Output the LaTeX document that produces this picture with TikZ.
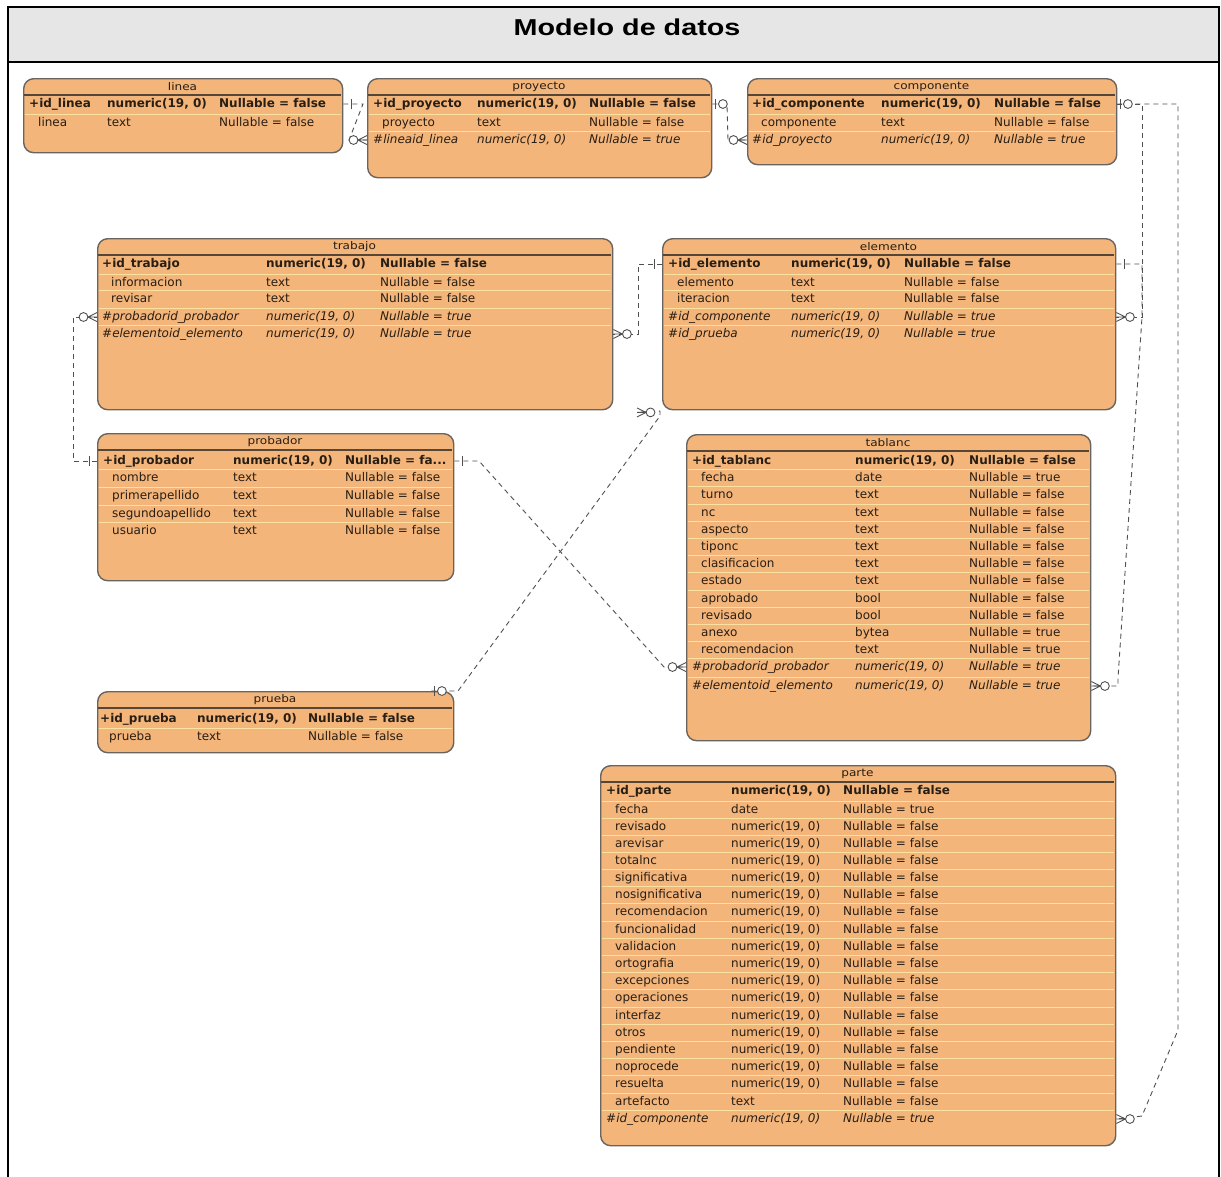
\documentclass[tikz,border=0pt]{standalone}
\usepackage{fontspec}
\setmainfont{DejaVu Sans}
\newfontfamily\headfont{Liberation Sans}
\usetikzlibrary{calc}

\definecolor{entfill}{RGB}{243,181,122}
\definecolor{entline}{RGB}{105,100,95}
\definecolor{entrule}{RGB}{85,70,55}
\definecolor{rowrule}{RGB}{252,226,160}
\definecolor{enttext}{RGB}{40,30,20}
\definecolor{relline}{RGB}{80,80,80}
\definecolor{headfill}{RGB}{230,230,230}

\newcommand\nm{numeric(19, 0)}
\newcommand\nullcut{Nullable = fa...}

\tikzset{
  frame/.style={draw=black, line width=2.2pt},
  tblbox/.style={draw=entline, line width=1.4pt, fill=entfill, rounded corners=10pt, inner sep=0pt},
  tbltitle/.style={font=\fontsize{10.5}{12}\selectfont, text=enttext, inner sep=0pt},
  tblrule/.style={draw=entrule, line width=1.8pt},
  rowrule/.style={draw=rowrule, line width=1pt},
  cell/.style={anchor=west, inner sep=0pt, text height=9pt, text depth=3pt, text=enttext},
  row-k/.style={cell, font=\fontsize{12}{14}\selectfont\bfseries},
  row-n/.style={cell, font=\fontsize{12}{14}\selectfont},
  row-f/.style={cell, font=\fontsize{12}{14}\selectfont\itshape},
  name-k/.style={}, name-f/.style={}, name-n/.style={xshift=9pt},
  fmt/.code={\tikzset{row-#1}},
  namefmt/.code={\tikzset{name-#1}},
  rel/.style={draw=relline, line width=0.9pt, dash pattern=on 5pt off 4pt},
  endmark/.style={draw=relline, line width=0.9pt, solid},
  many/.pic={
    \draw[endmark] (-9,0) -- (0,-4.5) (-9,0) -- (0,0) (-9,0) -- (0,4.5);
    \draw[endmark, fill=white] (-13.5,0) circle[radius=4.4pt];
  },
  one/.pic={\draw[endmark] (-8,-5) -- (-8,5);},
  zeroone/.pic={
    \draw[endmark] (-3,-5) -- (-3,5);
    \draw[endmark, fill=white] (-10.5,0) circle[radius=4.4pt];
  }
}

% \entity{name}{left}{top}{right}{bottom}{title}
\newcommand\entity[6]{%
  \def\eL{#2}\def\eR{#4}%
  \node[tblbox, anchor=north west, minimum width={#4-#2}, minimum height={#5-#3}] (#1) at (#2,#3) {};
  \node[tbltitle] (#1-title) at (#2/2+#4/2, #3+8.5) {\scalebox{1.15}[1]{#6}};
  \draw[tblrule] (#2+0.8, #3+17) -- (#4-0.8, #3+17);
}

% \entrows{entity}{name x}{type x}{null x}{kind/y/name/type/nullable, ...}
\newcommand\entrows[5]{%
  \foreach[count=\i] \s/\y/\fa/\fb/\fc in {#5}{%
    \ifnum\i>1 \draw[rowrule] (\eL+1.5,\y-8.7) -- (\eR-1.5,\y-8.7);\fi
    \node[fmt/.expand once=\s, namefmt/.expand once=\s] (#1-\i) at (#2,\y) {\fa};
    \node[fmt/.expand once=\s] (#1-\i-t) at (#3,\y) {\fb};
    \node[fmt/.expand once=\s] (#1-\i-n) at (#4,\y) {\fc};
  }%
}

\begin{document}
\begin{tikzpicture}[x=1pt, y=-1pt]
\useasboundingbox (0,0) rectangle (1221,1176);

% page frame and heading
\fill[headfill] (8,7) rectangle (1219,62);
\draw[frame] (8,1190) -- (8,7) -- (1219,7) -- (1219,1190);
\draw[frame] (8,62) -- (1219,62);
\node[font=\headfont\bfseries\fontsize{23}{26}\selectfont, inner sep=0pt] (title) at (627,27) {\scalebox{1.25}[1]{Modelo de datos}};

% ---------------- tables ----------------
\entity{linea}{23}{78}{342}{152}{linea}
\entrows{linea}{29}{107}{219}{k/104/+id\_linea/\nm/Nullable = false, n/123/linea/text/Nullable = false}

\entity{proyecto}{367}{78}{711}{177}{proyecto}
\entrows{proyecto}{373}{477}{589}{k/104/+id\_proyecto/\nm/Nullable = false, n/123/proyecto/text/Nullable = false, f/140/\#lineaid\_linea/\nm/Nullable = true}

\entity{componente}{747}{78}{1116}{164}{componente}
\entrows{componente}{752}{881}{994}{k/104/+id\_componente/\nm/Nullable = false, n/123/componente/text/Nullable = false, f/140/\#id\_proyecto/\nm/Nullable = true}

\entity{trabajo}{97}{238}{612}{409}{trabajo}
\entrows{trabajo}{102}{266}{380}{k/264/+id\_trabajo/\nm/Nullable = false, n/283/informacion/text/Nullable = false, n/299/revisar/text/Nullable = false, f/317/\#probadorid\_probador/\nm/Nullable = true, f/334/\#elementoid\_elemento/\nm/Nullable = true}

\entity{elemento}{662}{238}{1115}{409}{elemento}
\entrows{elemento}{668}{791}{904}{k/264/+id\_elemento/\nm/Nullable = false, n/283/elemento/text/Nullable = false, n/299/iteracion/text/Nullable = false, f/317/\#id\_componente/\nm/Nullable = true, f/334/\#id\_prueba/\nm/Nullable = true}

\entity{probador}{97}{433}{453}{580}{probador}
\entrows{probador}{103}{233}{345}{k/461/+id\_probador/\nm/\nullcut, n/478/nombre/text/Nullable = false, n/496/primerapellido/text/Nullable = false, n/514/segundoapellido/text/Nullable = false, n/531/usuario/text/Nullable = false}

\entity{tablanc}{686}{434}{1090}{740}{tablanc}
\entrows{tablanc}{692}{855}{969}{k/461/+id\_tablanc/\nm/Nullable = false, n/478/fecha/date/Nullable = true, n/495/turno/text/Nullable = false, n/513/nc/text/Nullable = false, n/530/aspecto/text/Nullable = false, n/547/tiponc/text/Nullable = false, n/564/clasificacion/text/Nullable = false, n/581/estado/text/Nullable = false, n/599/aprobado/bool/Nullable = false, n/616/revisado/bool/Nullable = false, n/633/anexo/bytea/Nullable = true, n/650/recomendacion/text/Nullable = true, f/667/\#probadorid\_probador/\nm/Nullable = true, f/686/\#elementoid\_elemento/\nm/Nullable = true}

\entity{prueba}{97}{691}{453}{752}{prueba}
\entrows{prueba}{100}{197}{308}{k/719/+id\_prueba/\nm/Nullable = false, n/737/prueba/text/Nullable = false}

\entity{parte}{600}{765}{1115}{1145}{parte}
\entrows{parte}{606}{731}{843}{k/791/+id\_parte/\nm/Nullable = false, n/810/fecha/date/Nullable = true, n/827/revisado/\nm/Nullable = false, n/844/arevisar/\nm/Nullable = false, n/861/totalnc/\nm/Nullable = false, n/878/significativa/\nm/Nullable = false, n/895/nosignificativa/\nm/Nullable = false, n/912/recomendacion/\nm/Nullable = false, n/930/funcionalidad/\nm/Nullable = false, n/947/validacion/\nm/Nullable = false, n/964/ortografia/\nm/Nullable = false, n/981/excepciones/\nm/Nullable = false, n/998/operaciones/\nm/Nullable = false, n/1016/interfaz/\nm/Nullable = false, n/1033/otros/\nm/Nullable = false, n/1050/pendiente/\nm/Nullable = false, n/1067/noprocede/\nm/Nullable = false, n/1084/resuelta/\nm/Nullable = false, n/1102/artefacto/text/Nullable = false, f/1119/\#id\_componente/\nm/Nullable = true}

% ---------------- relationships ----------------
\coordinate (pruebaTop) at ($(prueba.north east)+(-23,0)$);
\coordinate (pruebaEnd) at ($(elemento.south west)+(-25,2)$);

\draw[rel] (linea.east |- linea-1) -- (363,104) -- (349,140) -- (proyecto.west |- proyecto-3);
\draw[rel] (proyecto.east |- proyecto-1) -- (727,104) -- (728,140) -- (componente.west |- componente-3);
\draw[rel] (componente.east |- componente-1) -- (1142,104) -- (1142,317) -- (elemento.east |- elemento-4);
\draw[rel] (componente.east |- componente-1) -- (1178,104) -- (1178,1030) -- (1142,1116) -- (parte.east |- parte-20);
\draw[rel] (elemento.east |- elemento-1) -- (1142,264) -- (1142,317) -- (1118,678) -- (1118,686) -- (tablanc.east |- tablanc-14);
\draw[rel] (elemento.west |- elemento-1) -- (638,264) -- (638,334) -- (trabajo.east |- trabajo-5);
\draw[rel] (probador.west |- probador-1) -- (73,461) -- (73,317) -- (trabajo.west |- trabajo-4);
\draw[rel] (probador.east |- probador-1) -- (479,461) -- (664,667) -- (tablanc.west |- tablanc-13);
\draw[rel] (pruebaTop) -- (458,691) -- (660,416) -- (660,411) -- (pruebaEnd);

% relationship end marks
\pic[rotate=180] at (linea.east |- linea-1) {one};
\pic at (proyecto.west |- proyecto-3) {many};
\pic[rotate=180] at (proyecto.east |- proyecto-1) {zeroone};
\pic at (componente.west |- componente-3) {many};
\pic[rotate=180] at (componente.east |- componente-1) {zeroone};
\pic[rotate=180] at (elemento.east |- elemento-4) {many};
\pic[rotate=180] at (parte.east |- parte-20) {many};
\pic[rotate=180] at (elemento.east |- elemento-1) {one};
\pic[rotate=180] at (tablanc.east |- tablanc-14) {many};
\pic at (elemento.west |- elemento-1) {one};
\pic[rotate=180] at (trabajo.east |- trabajo-5) {many};
\pic at (probador.west |- probador-1) {one};
\pic at (trabajo.west |- trabajo-4) {many};
\pic[rotate=180] at (probador.east |- probador-1) {one};
\pic at (tablanc.west |- tablanc-13) {many};
\pic[rotate=180] at (pruebaTop) {zeroone};
\pic[rotate=180] at (pruebaEnd) {many};
\end{tikzpicture}
\end{document}
